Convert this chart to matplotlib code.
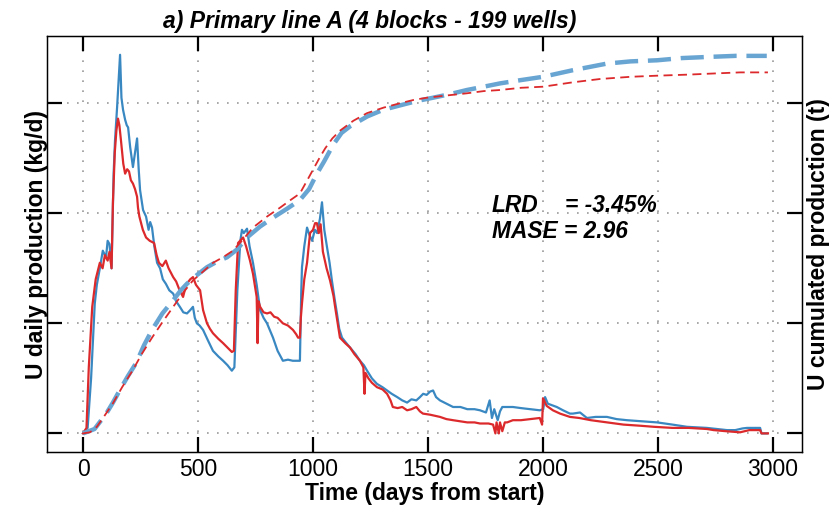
import matplotlib
matplotlib.use("Agg")
import matplotlib.pyplot as plt
from matplotlib import font_manager

# daily production (normalised units, tick spacing = 1)
obs_days = [0, 20, 35, 51, 60, 73, 86, 100, 107, 115, 124, 128, 133, 139, 148, 161, 167, 174, 183, 190,
            196, 205, 217, 226, 235, 242, 248, 261, 274, 285, 292, 300, 310, 322, 335, 347, 360, 375, 392,
            405, 421, 436, 452, 466, 478, 486, 495, 507, 522, 542, 565, 588, 609, 628, 647, 658, 671, 684,
            691, 699, 713, 724, 739, 755, 770, 785, 800, 826, 846, 869, 891, 912, 935, 943, 949, 952, 962,
            974, 985, 996, 1008, 1018, 1030, 1039, 1049, 1061, 1072, 1082, 1094, 1104, 1114, 1126, 1145,
            1161, 1185, 1204, 1221, 1235, 1256, 1278, 1302, 1322, 1342, 1366, 1388, 1409, 1428, 1449,
            1465, 1479, 1494, 1509, 1522, 1535, 1552, 1580, 1609, 1641, 1671, 1702, 1726, 1752, 1768,
            1778, 1788, 1803, 1813, 1823, 1844, 1869, 1904, 1945, 1986, 2001, 2009, 2021, 2060, 2087,
            2117, 2130, 2161, 2191, 2229, 2278, 2320, 2365, 2431, 2496, 2563, 2626, 2674, 2713, 2755,
            2800, 2836, 2867, 2887, 2917, 2944, 2950, 2973]
obs_daily = [0, 0.05, 0.5, 1.18, 1.35, 1.5, 1.66, 1.6, 1.75, 1.72, 1.5, 1.9, 2.36, 2.66, 2.96, 3.44, 3.05,
             2.94, 2.85, 2.8, 2.78, 2.6, 2.42, 2.55, 2.68, 2.4, 2.21, 2.03, 1.97, 1.85, 1.92, 1.87, 1.7,
             1.55, 1.5, 1.4, 1.36, 1.3, 1.27, 1.2, 1.15, 1.1, 1.09, 1.12, 1.15, 1.05, 1.0, 0.98, 0.94,
             0.85, 0.75, 0.7, 0.66, 0.62, 0.57, 0.6, 1.3, 1.75, 1.85, 1.82, 1.86, 1.7, 1.55, 1.35, 1.12,
             1.05, 1.0, 0.87, 0.75, 0.66, 0.67, 0.66, 0.66, 0.66, 1.3, 1.51, 1.7, 1.87, 1.8, 1.75, 1.85,
             1.82, 1.95, 2.1, 1.85, 1.69, 1.55, 1.39, 1.22, 1.09, 0.95, 0.87, 0.82, 0.78, 0.72, 0.66,
             0.62, 0.57, 0.5, 0.45, 0.42, 0.39, 0.36, 0.33, 0.3, 0.28, 0.31, 0.3, 0.33, 0.36, 0.35, 0.38,
             0.39, 0.33, 0.3, 0.27, 0.24, 0.24, 0.22, 0.22, 0.21, 0.19, 0.3, 0.14, 0.22, 0.12, 0.2, 0.24,
             0.24, 0.24, 0.23, 0.22, 0.21, 0.22, 0.33, 0.27, 0.24, 0.21, 0.18, 0.18, 0.19, 0.14, 0.15,
             0.15, 0.13, 0.12, 0.11, 0.1, 0.08, 0.06, 0.055, 0.05, 0.04, 0.03, 0.03, 0.045, 0.05, 0.05,
             0.05, 0.0, 0.0]

mod_days = [0, 15, 25, 40, 55, 73, 85, 95, 107, 115, 124, 130, 138, 145, 152, 158, 165, 175, 183, 192,
            200, 208, 217, 226, 235, 239, 245, 260, 274, 290, 300, 309, 320, 330, 345, 360, 372, 392, 405,
            420, 435, 446, 452, 466, 478, 491, 509, 522, 539, 552, 565, 588, 609, 628, 647, 656, 664,
            674, 687, 696, 709, 726, 739, 755, 759, 763, 770, 785, 800, 815, 831, 846, 869, 891, 913,
            927, 935, 943, 947, 952, 962, 974, 987, 1000, 1009, 1017, 1025, 1033, 1043, 1059, 1074, 1089,
            1096, 1109, 1117, 1140, 1161, 1180, 1204, 1219, 1224, 1228, 1241, 1256, 1278, 1302, 1322,
            1337, 1347, 1368, 1388, 1409, 1428, 1449, 1465, 1478, 1509, 1552, 1580, 1609, 1641, 1671,
            1702, 1726, 1763, 1783, 1793, 1798, 1808, 1813, 1823, 1834, 1844, 1869, 1904, 1945, 1986,
            1996, 2000, 2016, 2043, 2074, 2117, 2158, 2208, 2278, 2350, 2421, 2482, 2563, 2634, 2713,
            2742, 2796, 2857, 2897, 2917, 2944, 2950, 2978]
mod_daily = [0, 0.05, 0.6, 1.15, 1.4, 1.55, 1.5, 1.62, 1.57, 1.65, 1.5, 2.1, 2.55, 2.75, 2.86, 2.8, 2.66,
             2.45, 2.36, 2.4, 2.38, 2.3, 2.27, 2.22, 2.15, 2.05, 1.97, 1.85, 1.78, 1.75, 1.74, 1.73, 1.62,
             1.55, 1.52, 1.57, 1.5, 1.42, 1.38, 1.3, 1.24, 1.33, 1.36, 1.4, 1.42, 1.35, 1.3, 1.12, 1.0,
             0.95, 0.91, 0.86, 0.82, 0.78, 0.74, 0.75, 1.3, 1.73, 1.76, 1.78, 1.7, 1.57, 1.45, 1.24, 0.82,
             1.2, 1.15, 1.1, 1.09, 1.1, 1.06, 1.05, 1.0, 0.98, 0.94, 0.9, 0.87, 0.87, 1.05, 1.18, 1.4,
             1.55, 1.82, 1.85, 1.91, 1.91, 1.82, 1.9, 1.65, 1.5, 1.39, 1.25, 1.15, 0.98, 0.87, 0.82, 0.78,
             0.72, 0.66, 0.6, 0.36, 0.55, 0.5, 0.46, 0.42, 0.4, 0.36, 0.3, 0.24, 0.23, 0.24, 0.21, 0.22,
             0.24, 0.2, 0.18, 0.17, 0.15, 0.13, 0.12, 0.11, 0.1, 0.1, 0.09, 0.09, 0.08, 0.0, 0.1, 0.0, 0.1,
             0.02, 0.1, 0.1, 0.12, 0.12, 0.13, 0.14, 0.08, 0.32, 0.25, 0.21, 0.18, 0.15, 0.14, 0.12, 0.1,
             0.08, 0.07, 0.06, 0.05, 0.05, 0.04, 0.03, 0.02, 0.01, 0.03, 0.03, 0.03, 0.0, 0.0]

# cumulated production (same normalised scale)
obs_cum_days = [0, 50, 101, 130, 159, 195, 231, 265, 300, 345, 392, 425, 452, 496, 539, 582, 626, 669,
                713, 770, 826, 886, 943, 983, 1017, 1048, 1087, 1124, 1161, 1236, 1305, 1378, 1452,
                1522, 1590, 1669, 1742, 1813, 1904, 2000, 2130, 2278, 2381, 2496, 2603, 2713, 2836, 2973]
obs_cum = [0, 0.04, 0.18, 0.28, 0.39, 0.52, 0.64, 0.8, 0.94, 1.09, 1.21, 1.3, 1.36, 1.44, 1.51, 1.56,
           1.6, 1.67, 1.78, 1.88, 1.96, 2.04, 2.12, 2.22, 2.36, 2.47, 2.62, 2.73, 2.79, 2.88, 2.94, 2.98,
           3.02, 3.05, 3.08, 3.12, 3.15, 3.18, 3.21, 3.24, 3.3, 3.36, 3.38, 3.39, 3.41, 3.42, 3.43, 3.43]

mod_cum_days = [0, 30, 60, 90, 129, 170, 215, 255, 300, 345, 392, 436, 478, 522, 565, 608, 652, 699,
                739, 800, 856, 902, 943, 988, 1030, 1053, 1084, 1117, 1175, 1235, 1307, 1379, 1438,
                1495, 1580, 1669, 1742, 1813, 1904, 2000, 2130, 2248, 2381, 2496, 2634, 2742, 2857, 2978]
mod_cum = [0, 0.01, 0.06, 0.15, 0.27, 0.42, 0.57, 0.72, 0.87, 1.01, 1.15, 1.28, 1.39, 1.47, 1.55, 1.6,
           1.66, 1.77, 1.87, 1.97, 2.05, 2.12, 2.18, 2.35, 2.51, 2.59, 2.68, 2.75, 2.84, 2.91, 2.96, 3.0,
           3.03, 3.05, 3.07, 3.09, 3.11, 3.12, 3.14, 3.15, 3.19, 3.22, 3.24, 3.25, 3.26, 3.27, 3.28, 3.28]

xticks = [0, 500, 1000, 1500, 2000, 2500, 3000]
yticks = [0, 1, 2, 3]

plt.rcParams['font.family'] = ['Liberation Sans', 'DejaVu Sans']
installed = {f.name for f in font_manager.fontManager.ttflist}
if 'Liberation Sans Narrow' in installed:
    title_font, title_size = ['Liberation Sans Narrow', 'Liberation Sans'], 20
else:
    title_font, title_size = ['Liberation Sans', 'DejaVu Sans'], 16.5

BLUE = "#3a88c2"
BLUE_CUM = "#69a5d3"
RED = "#dc2a2c"

fig = plt.figure(figsize=(8.38, 5.08), dpi=100)
ax = fig.add_axes([0.056, 0.110, 0.901, 0.819])

ax.plot(obs_days, obs_daily, color=BLUE, lw=1.6, zorder=3)
ax.plot(mod_days, mod_daily, color=RED, lw=1.6, zorder=4)
ax.plot(obs_cum_days, obs_cum, color=BLUE_CUM, lw=3.2, dashes=(5.2, 2.2), zorder=5)
ax.plot(mod_cum_days, mod_cum, color=RED, lw=1.3, dashes=(5.0, 3.0), zorder=6)

ax.set_xlim(-157, 3126)
ax.set_ylim(-0.17, 3.61)
ax.set_xticks(xticks)
ax.set_yticks(yticks)
ax.set_yticklabels([])
ax.grid(True, color="#9a9a9a", linestyle=(0, (1, 5)), lw=1.2)
ax.tick_params(axis='both', direction='in', length=11, width=1.6, top=True, labelsize=16.5)
ax.tick_params(axis='x', pad=4)
for sp in ax.spines.values():
    sp.set_linewidth(1.0)

ax.set_xlabel("Time (days from start)", fontsize=16.5, fontweight='bold', labelpad=1)
ax.set_ylabel("U daily production (kg/d)", fontsize=16.5, fontweight='bold', labelpad=-4)
ax.set_title("a) Primary line A (4 blocks - 199 wells)", fontsize=title_size, fontweight='bold',
             fontstyle='italic', family=title_font, pad=6, x=0.428)

ax2 = ax.twinx()
ax2.set_ylim(ax.get_ylim())
ax2.set_yticks(yticks)
ax2.set_yticklabels([])
ax2.tick_params(axis='y', direction='in', length=11, width=1.6)
ax2.set_ylabel("U cumulated production (t)", fontsize=16.5, fontweight='bold', labelpad=0)

ax.text(1778, 2.07, "LRD", fontsize=16.4, fontweight='bold', fontstyle='italic', va='center')
ax.text(2096, 2.07, "= -3.45%", fontsize=16.4, fontweight='bold', fontstyle='italic', va='center')
ax.text(1778, 1.83, "MASE = 2.96", fontsize=16.4, fontweight='bold', fontstyle='italic', va='center')

fig.savefig("out.png", dpi=100)
